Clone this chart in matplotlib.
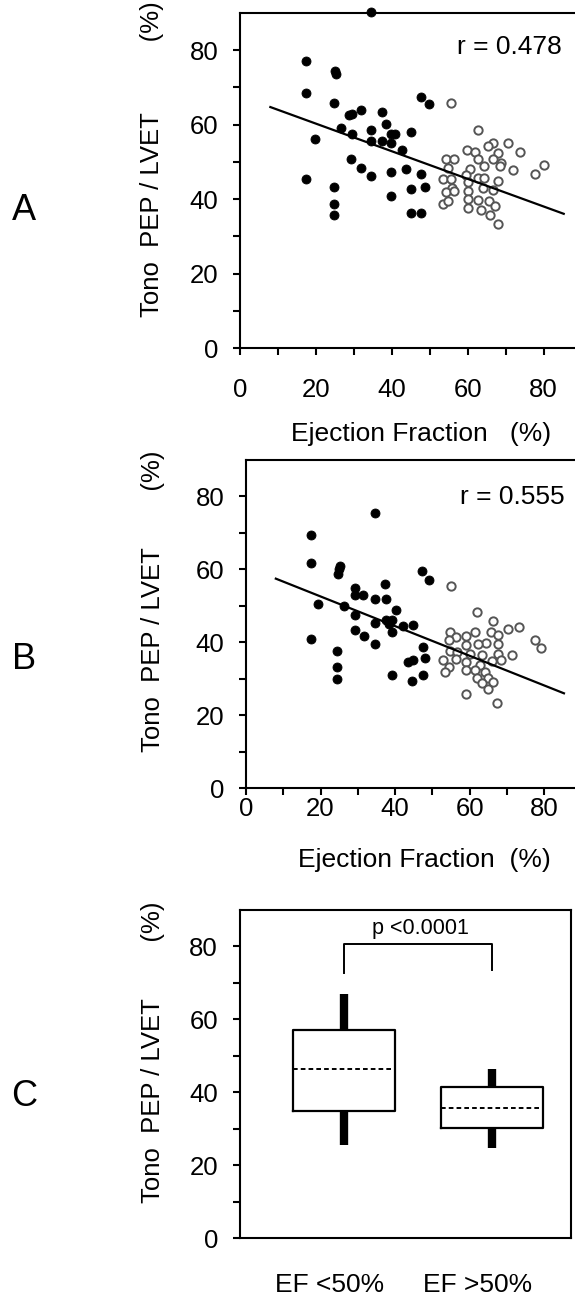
import matplotlib
matplotlib.use("Agg")
import matplotlib.pyplot as plt
import matplotlib.transforms as mtransforms
import numpy as np

plt.rcParams["font.family"] = ["Liberation Sans", "DejaVu Sans"]

# ===================================== data =====================================

# panel A : tono PEP/LVET vs ejection fraction
a_low_ef = [17.5, 25.0, 25.3, 17.5, 24.7, 47.8, 49.7, 28.8, 29.5, 31.8, 37.3, 26.5,
            29.6, 34.4, 38.4, 39.7, 40.8, 45.0, 19.7, 34.4, 37.3, 39.7, 42.6, 29.3,
            31.8, 34.6, 39.7, 43.7, 47.7, 17.5, 24.9, 45.0, 48.8, 39.7, 24.9, 24.9,
            45.0, 47.8, 34.6]
a_low_val = [77.2, 74.5, 73.5, 68.4, 65.7, 67.3, 65.5, 62.5, 63.0, 63.9, 63.3, 59.2,
             57.4, 58.6, 60.3, 57.4, 57.4, 57.9, 56.1, 55.5, 55.5, 55.2, 53.2, 50.9,
             48.4, 46.2, 47.3, 48.0, 46.8, 45.5, 43.2, 42.6, 43.2, 40.8, 38.7, 35.6,
             36.3, 36.3, 90.2]
a_high_ef = [55.6, 62.7, 66.6, 65.3, 70.6, 73.7, 59.8, 61.8, 68.0, 62.7, 66.6, 54.3,
             56.5, 68.7, 68.4, 64.4, 60.5, 54.7, 72.0, 77.7, 80.1, 53.4, 55.6, 59.6,
             62.7, 64.4, 60.0, 68.0, 55.8, 54.3, 56.3, 60.0, 64.0, 66.6, 60.0, 62.7,
             65.5, 53.4, 54.7, 60.0, 63.5, 67.1, 65.8, 68.0]
a_high_val = [65.9, 58.5, 55.0, 54.3, 55.0, 52.6, 53.1, 52.6, 52.3, 50.9, 50.7, 50.9,
              50.9, 49.8, 48.9, 48.9, 48.2, 48.4, 47.9, 46.8, 49.1, 45.5, 45.3, 46.6,
              45.7, 45.7, 44.6, 44.8, 43.0, 41.9, 42.1, 42.1, 43.0, 42.4, 40.0, 39.7,
              39.4, 38.8, 39.4, 37.6, 37.0, 38.1, 35.8, 33.4]
a_fit = dict(slope=-0.371, intercept=67.7, r="r = 0.478")

# panel B
b_low_ef = [34.6, 17.5, 17.5, 25.2, 24.7, 25.0, 47.3, 49.2, 37.4, 29.2, 31.5, 29.2,
            34.6, 37.5, 19.3, 26.3, 40.2, 29.2, 37.5, 39.3, 34.6, 38.4, 42.0, 44.7,
            39.3, 29.2, 31.7, 17.5, 34.6, 47.4, 24.5, 47.9, 43.4, 44.7, 24.5, 24.5,
            39.2, 47.4, 44.5]
b_low_val = [75.4, 69.5, 61.8, 61.0, 58.8, 60.1, 59.5, 57.1, 56.0, 54.9, 53.0, 53.0,
             51.9, 51.9, 50.6, 50.0, 48.9, 47.6, 46.2, 46.0, 45.3, 45.1, 44.5, 44.8,
             42.8, 43.3, 41.7, 41.0, 39.4, 38.7, 37.5, 35.8, 34.6, 35.1, 33.3, 29.8,
             31.0, 31.0, 29.3]
b_high_ef = [55.1, 62.0, 66.3, 70.2, 73.3, 65.7, 67.7, 61.4, 59.1, 54.6, 56.4, 54.4,
             64.5, 62.3, 67.7, 77.4, 79.2, 59.1, 71.3, 67.5, 63.2, 54.6, 56.7, 60.0,
             68.4, 52.8, 56.4, 59.1, 62.7, 65.9, 54.4, 53.3, 59.1, 61.4, 64.1, 62.1,
             65.0, 66.3, 63.2, 65.0, 59.1, 67.4]
b_high_val = [55.4, 48.3, 45.8, 43.5, 44.2, 42.8, 41.9, 42.8, 41.6, 42.8, 41.5, 40.5,
              39.8, 39.6, 39.6, 40.5, 38.3, 39.2, 36.4, 36.9, 36.6, 37.5, 37.4, 36.9,
              35.1, 35.1, 35.3, 34.6, 33.7, 34.8, 33.3, 31.7, 32.3, 32.3, 31.9, 30.1,
              30.1, 29.2, 28.7, 27.1, 25.7, 23.2]
b_fit = dict(slope=-0.407, intercept=60.7, r="r = 0.555")

fit_range = [8.0, 85.3]

# panel C : box summary per group
groups = ["EF <50%", "EF >50%"]
box_q1 = [34.9, 30.2]
box_med = [46.4, 35.7]
box_q3 = [57.2, 41.4]
box_lo = [25.4, 24.7]
box_hi = [66.9, 46.4]
bracket_y = [72.6, 80.6, 80.6, 73.5]
p_text = "p <0.0001"

ylab_a = "Tono  PEP / LVET          (%)"
ylab_b = "Tono  PEP / LVET        (%)"
ylab_c = "Tono  PEP / LVET        (%)"

# ================================================================================

W, H = 575, 1297
fig = plt.figure(figsize=(W / 100, H / 100), dpi=100)


def px(x, y):
    # pixel position -> figure fraction
    return x / W, 1 - y / H


def rect(left, top, right, bottom):
    return [left / W, 1 - bottom / H, (right - left) / W, (bottom - top) / H]


def style_axes(ax, right_spine=False):
    for s in ax.spines.values():
        s.set_linewidth(1.5)
    ax.spines["right"].set_visible(right_spine)
    ax.set_ylim(0, 90)
    ax.set_yticks(np.arange(0, 81, 20))
    ax.set_yticks(np.arange(10, 90, 20), minor=True)
    ax.tick_params(axis="both", which="both", direction="out", length=5, width=1.5,
                   labelsize=18.5)
    ax.tick_params(axis="y", which="both", pad=10.5)


def scatter_panel(ax, lo_x, lo_y, hi_x, hi_y, fit, r_pos, xpad):
    ax.scatter(lo_x, lo_y, s=42, c="black", edgecolors="black", linewidths=0.6,
               zorder=4, clip_on=False)
    ax.scatter(hi_x, hi_y, s=36, facecolors="white", edgecolors="#555555",
               linewidths=1.4, zorder=3, clip_on=False)
    xs = np.array(fit_range)
    ax.plot(xs, fit["slope"] * xs + fit["intercept"], color="black", lw=1.6, zorder=5)
    ax.text(r_pos[0], r_pos[1], fit["r"], ha="right", va="center", fontsize=19)
    ax.set_xlim(0, 88.8)
    ax.set_xticks(np.arange(0, 81, 20))
    ax.set_xticks(np.arange(10, 90, 20), minor=True)
    style_axes(ax)
    ax.tick_params(axis="x", which="both", pad=xpad)


# ----- panel A -----
ax_a = fig.add_axes(rect(240, 13, 577, 348))
scatter_panel(ax_a, a_low_ef, a_low_val, a_high_ef, a_high_val, a_fit, (84.8, 80.8), 16.5)

# ----- panel B -----
ax_b = fig.add_axes(rect(246, 460, 577, 788))
scatter_panel(ax_b, b_low_ef, b_low_val, b_high_ef, b_high_val, b_fit, (85.4, 79.8), 1.5)

# ----- panel C -----
ax_c = fig.add_axes(rect(239.5, 910, 571, 1238))
pos = [1, 2]
stats = [
    dict(med=box_med[i], q1=box_q1[i], q3=box_q3[i], whislo=box_lo[i],
         whishi=box_hi[i], fliers=[], label=groups[i])
    for i in range(len(groups))
]
ax_c.bxp(
    stats, positions=pos, widths=0.69, showcaps=False, showfliers=False,
    boxprops=dict(color="black", linewidth=1.6),
    whiskerprops=dict(color="black", linewidth=6, solid_capstyle="butt"),
    medianprops=dict(color="black", linewidth=1.4, linestyle=(0, (2.4, 1.6))),
)
ax_c.plot([pos[0], pos[0], pos[1], pos[1]], bracket_y, color="black", lw=1.4)
ax_c.text(np.mean(pos) + 0.02, 84.8, p_text, ha="center", va="center", fontsize=15.5)
ax_c.set_xlim(0.294, 2.534)
style_axes(ax_c, right_spine=True)
ax_c.set_xticks(pos)
ax_c.set_xticklabels(groups, fontsize=19)
ax_c.tick_params(axis="x", which="both", length=0, pad=25)
shift = mtransforms.ScaledTranslation(-14 / 100, 0, fig.dpi_scale_trans)
for lab in ax_c.get_xticklabels():
    lab.set_transform(lab.get_transform() + shift)

# ----- axis titles and panel letters -----
# y titles anchored at the start of "Tono"
for (x, y), txt in [((152, 317), ylab_a), ((153, 752), ylab_b), ((153, 1203), ylab_c)]:
    fig.text(*px(x, y), txt, rotation=90, ha="center", va="bottom", fontsize=18.5)

fig.text(*px(421, 434), "Ejection Fraction   (%)", ha="center", va="center", fontsize=19)
fig.text(*px(424, 860), "Ejection Fraction  (%)", ha="center", va="center", fontsize=19)

for (x, y), letter in [((24, 210), "A"), ((24, 660), "B"), ((24, 1097), "C")]:
    fig.text(*px(x, y), letter, ha="center", va="center", fontsize=26)

fig.savefig("out.png", dpi=100)
